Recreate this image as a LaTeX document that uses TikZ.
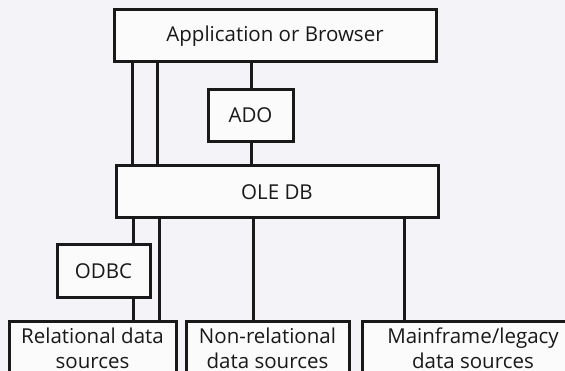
\documentclass[tikz,border=0pt]{standalone}
\usepackage{fontspec}
\setmainfont{Open Sans}

\definecolor{paper}{RGB}{244,244,248}
\definecolor{ink}{RGB}{25,25,25}

\tikzset{
        layer/.style={draw=ink, fill=white!60!paper, line width=3pt,
                text=ink, inner sep=0pt, minimum height=52pt,
                font=\fontsize{20.5}{25}\selectfont, align=center},
        wire/.style={draw=ink, line width=3pt}
}

\begin{document}
\begin{tikzpicture}[x=1pt, y=-1pt]
        \useasboundingbox (0,0) rectangle (565,371);
        \clip (0,0) rectangle (565,371);
        \fill[paper] (0,0) rectangle (565,371);

        % layers
        \node[layer, minimum width=322pt] (app)   at (275,36)    {Application or Browser};
        \node[layer, minimum width=85pt]  (ado)   at (250.5,115.5) {ADO};
        \node[layer, minimum width=322pt] (oledb) at (277,192)   {OLE DB};
        \node[layer, minimum width=93pt, minimum height=53pt] (odbc) at (103.5,271.5) {ODBC};
        \node[layer, minimum width=167pt] (rel)    at (92.5,348)  {Relational data\\sources};
        \node[layer, minimum width=163pt] (nonrel) at (267.5,348) {Non-relational\\data sources};
        \node[layer, minimum width=222pt] (main)   at (473,348)   {Mainframe/legacy\\data sources};

        % where the wires run
        \coordinate (xa) at (132,0);
        \coordinate (xb) at (157.5,0);
        \coordinate (xc) at (251,0);
        \coordinate (xd) at (133.5,0);
        \coordinate (xe) at (159,0);
        \coordinate (xf) at (253,0);
        \coordinate (xg) at (404,0);

        \draw[wire] (app.south -| xa) -- (oledb.north -| xa);
        \draw[wire] (app.south -| xb) -- (oledb.north -| xb);
        \draw[wire] (app.south -| xc) -- (ado.north -| xc);
        \draw[wire] (ado.south -| xc) -- (oledb.north -| xc);
        \draw[wire] (oledb.south -| xd) -- (odbc.north -| xd);
        \draw[wire] (odbc.south -| xd) -- (rel.north -| xd);
        \draw[wire] (oledb.south -| xe) -- (rel.north -| xe);
        \draw[wire] (oledb.south -| xf) -- (nonrel.north -| xf);
        \draw[wire] (oledb.south -| xg) -- (main.north -| xg);
\end{tikzpicture}
\end{document}
